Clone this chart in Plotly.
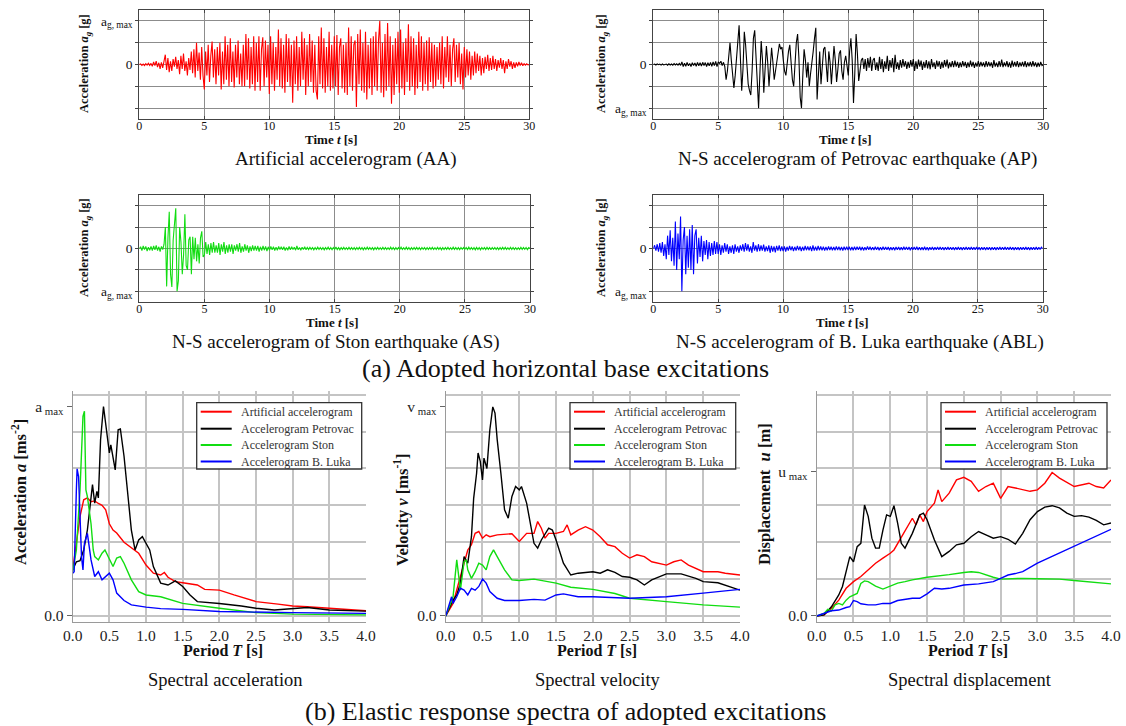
import numpy as np
import plotly.graph_objects as go

W, H = 1126, 726
FONT = "Liberation Serif"

# ---------------- accelerograms (units: grid steps, a_g,max = 2), sampled every 0.1 s ----------------
DT = 0.1
AA_VALUES = [
    0.00, 0.03, -0.04, 0.02, -0.05, 0.04, -0.03, 0.06, -0.04, 0.05,
    -0.08, 0.12, -0.05, 0.15, -0.12, 0.08, -0.20, 0.10, -0.15, 0.18,
    0.45, -0.25, 0.30, -0.35, 0.15, -0.30, 0.25, -0.10, 0.35, -0.20,
    0.20, -0.45, 0.40, -0.20, 0.50, -0.30, 0.15, -0.50, 0.30, -0.25,
    0.60, -0.40, 0.70, -0.60, 1.00, -0.30, 0.55, -0.70, 0.80, -0.50,
    -1.15, 0.60, -0.50, 0.90, -0.80, 0.40, 1.05, -0.60, 0.70, -0.90,
    0.80, -0.50, 1.00, -1.15, 0.60, -0.90, 1.30, -0.70, 0.90, -1.00,
    1.20, -0.80, 0.60, -1.05, 0.90, -0.60, 1.10, -0.90, 0.50, -1.00,
    0.90, -1.00, 1.40, -0.70, 1.20, -1.10, 0.80, -0.90, 1.30, -1.20,
    1.00, -0.80, 1.30, -1.20, 0.70, 1.25, -1.00, 1.10, -0.60, 0.90,
    -1.35, 1.30, -0.90, 1.00, -1.20, 0.80, -0.70, 1.60, -1.00, 1.20,
    -1.10, 0.90, -1.30, 1.40, -0.80, 1.20, -1.00, 0.90, -1.75, 1.10,
    -0.90, 1.30, -1.20, 0.80, -1.00, 1.50, -0.70, 1.20, -1.40, 0.90,
    -1.00, 1.40, -0.80, 1.10, -1.30, 0.90, -1.20, -1.60, 1.30, -0.90,
    1.70, -1.10, 1.20, -1.30, 0.80, -1.00, 1.50, -1.20, 0.90, -1.10,
    1.30, -1.00, 1.35, -1.40, 0.80, 1.20, -1.10, 0.90, -1.30, 1.00,
    -1.40, 1.70, -1.00, 1.30, -1.20, 0.90, 1.10, -1.95, 1.40, -0.90,
    1.60, -1.20, 1.00, -1.30, 1.50, -1.60, 0.90, -1.10, 1.20, -1.40,
    1.30, -1.00, 1.50, -1.20, 1.10, 2.00, -1.30, 1.00, -1.50, 1.40,
    -1.20, 1.90, -1.00, 1.30, -1.80, 0.90, -1.40, 1.20, -0.90, 1.50,
    -1.30, 1.60, -1.10, 1.00, -1.40, 1.20, -0.80, 1.85, -1.20, 1.30,
    -1.00, 1.20, -1.40, 0.90, -1.10, 1.50, -0.80, 1.30, -1.20, 1.00,
    -0.90, 1.10, -1.20, 1.25, -0.80, 1.00, -1.10, 0.90, -1.00, 0.80,
    -0.70, 1.00, -0.90, 1.30, -1.10, 0.80, -0.60, 1.30, -0.80, 0.90,
    -1.00, 0.70, 1.20, -0.80, 0.90, -0.60, 1.00, -0.90, 0.50, -1.15,
    0.80, -0.60, 0.70, -0.50, 0.60, -0.70, 0.40, -0.50, 0.60, -0.40,
    0.50, -0.30, 0.40, -0.50, 0.30, -0.40, 0.35, -0.20, 0.45, -0.30,
    0.30, -0.25, 0.40, -0.20, 0.25, -0.30, 0.20, -0.15, 0.30, -0.20,
    0.20, -0.40, 0.15, -0.20, 0.25, -0.10, 0.15, -0.20, 0.10, -0.15,
    0.10, -0.08, 0.12, -0.05, 0.08, -0.06, 0.04, -0.03, 0.03, -0.02,
    0.00,
]
AP_VALUES = [
    0.00, 0.02, -0.02, 0.03, -0.01, 0.02, -0.03, 0.02, -0.02, 0.01,
    0.02, -0.03, 0.03, -0.02, 0.02, -0.03, 0.04, -0.02, 0.03, -0.03,
    0.05, -0.04, 0.12, -0.10, 0.06, -0.08, 0.10, -0.06, 0.05, -0.09,
    0.08, -0.05, 0.07, -0.08, 0.10, -0.06, 0.08, -0.07, 0.10, -0.05,
    0.09, -0.10, 0.08, -0.06, 0.10, -0.08, 0.12, -0.05, 0.14, -0.10,
    0.12, 0.05, 0.15, -0.05, 0.10, -0.10, -0.70, -0.30, 0.50, 1.00,
    0.20, -0.60, -1.08, -0.50, 0.30, 1.20, 1.80, 0.30, -1.20, -0.20,
    1.50, 0.90, -0.20, -0.90, -1.20, -1.40, -0.30, 1.20, 1.57, 0.40,
    -1.20, -2.00, -0.40, 1.08, 0.20, -1.30, -0.20, 0.85, 0.10, -1.00,
    -0.10, 0.77, 0.10, -0.70, -0.30, 0.20, 0.60, 0.95, 0.70, 0.80,
    0.20, -0.30, -0.50, 0.10, 0.60, 0.90, 0.10, -0.70, -1.00, 0.20,
    1.00, 1.40, 0.30, -1.50, -2.00, -0.50, 0.70, 0.20, -0.60, 0.10,
    -1.00, -0.40, 0.30, 0.60, 1.20, 1.68, -1.60, -0.50, 0.60, -0.90,
    0.20, 0.70, 0.80, -0.30, -0.80, 0.60, 0.10, -0.90, 0.30, 0.85,
    0.20, -0.80, -0.20, 0.50, 0.65, -0.30, -0.70, 0.10, 0.40, -0.20,
    -0.50, 0.60, 1.20, 0.20, -1.77, -0.40, 1.40, 0.50, -0.75, -0.30,
    0.20, 0.30, -0.20, 0.25, -0.30, 0.30, -0.15, 0.35, -0.30, 0.20,
    0.30, -0.25, 0.10, -0.30, 0.35, -0.20, 0.25, -0.35, 0.15, -0.20,
    0.40, -0.30, 0.20, -0.15, 0.30, -0.35, 0.45, -0.20, 0.10, -0.25,
    0.20, -0.15, 0.25, -0.10, 0.15, -0.20, 0.12, -0.15, 0.20, -0.10,
    0.25, -0.30, 0.15, -0.20, 0.22, -0.10, 0.18, -0.25, 0.12, -0.15,
    0.20, -0.18, 0.15, -0.22, 0.25, -0.12, 0.10, -0.20, 0.18, -0.10,
    0.15, -0.20, 0.12, -0.15, 0.20, -0.10, 0.22, -0.18, 0.10, -0.12,
    0.15, -0.12, 0.18, -0.10, 0.12, -0.15, 0.10, -0.12, 0.15, -0.08,
    0.12, -0.15, 0.10, -0.12, 0.18, -0.10, 0.12, -0.15, 0.08, -0.10,
    0.15, -0.10, 0.12, -0.08, 0.10, -0.12, 0.15, -0.10, 0.12, -0.08,
    0.10, -0.15, 0.20, -0.10, 0.08, -0.12, 0.15, -0.10, 0.22, -0.12,
    0.10, -0.08, 0.15, -0.12, 0.10, -0.15, 0.18, -0.10, 0.12, -0.10,
    0.15, -0.12, 0.10, -0.08, 0.12, -0.10, 0.15, -0.12, 0.10, -0.08,
    0.12, -0.10, 0.15, -0.08, 0.10, -0.12, 0.08, -0.10, 0.12, -0.05,
    0.00,
]
AS_VALUES = [
    0.00, 0.08, -0.10, 0.12, -0.05, 0.10, -0.12, 0.06, -0.08, 0.10,
    -0.10, 0.12, -0.06, 0.15, -0.10, 0.08, -0.15, 0.10, -0.05, 0.20,
    1.00, -1.77, 0.50, 1.72, -1.20, -1.80, 0.40, 1.20, 1.88, -2.00,
    -1.50, 1.00, 0.30, -1.20, -0.30, 1.60, -0.80, -1.00, 0.40, 0.55,
    -1.20, 0.55, -0.50, 0.50, -0.60, 0.20, -0.70, 0.50, 0.80, -0.40,
    -0.30, 0.30, -0.25, 0.20, -0.30, 0.25, -0.20, 0.30, -0.20, 0.15,
    -0.20, 0.25, -0.30, 0.20, -0.15, 0.30, -0.25, 0.15, -0.20, 0.20,
    -0.15, 0.20, -0.25, 0.15, -0.10, 0.20, -0.15, 0.25, -0.20, 0.10,
    -0.15, 0.20, -0.10, 0.15, -0.20, 0.10, -0.12, 0.15, -0.10, 0.12,
    -0.10, 0.12, -0.15, 0.08, -0.10, 0.12, -0.08, 0.10, -0.12, 0.08,
    -0.08, 0.10, -0.06, 0.08, -0.10, 0.06, -0.08, 0.10, -0.05, 0.08,
    -0.06, 0.08, -0.10, 0.05, -0.08, 0.10, -0.06, 0.08, -0.05, 0.06,
    -0.08, 0.12, -0.06, 0.05, -0.08, 0.06, -0.05, 0.08, -0.06, 0.05,
    -0.05, 0.06, -0.04, 0.05, -0.06, 0.04, -0.05, 0.06, -0.04, 0.05,
    -0.05, 0.04, -0.06, 0.05, -0.04, 0.06, -0.05, 0.04, -0.06, 0.05,
    -0.04, 0.07, -0.05, 0.04, -0.06, 0.05, -0.04, 0.06, -0.05, 0.04,
    -0.05, 0.06, -0.04, 0.05, -0.05, 0.04, -0.06, 0.05, -0.04, 0.06,
    -0.04, 0.05, -0.06, 0.04, -0.05, 0.06, -0.04, 0.05, -0.05, 0.04,
    -0.06, 0.05, -0.04, 0.06, -0.05, 0.04, -0.05, 0.06, -0.04, 0.05,
    -0.05, 0.04, -0.05, 0.06, -0.04, 0.05, -0.06, 0.04, -0.05, 0.05,
    -0.04, 0.06, -0.05, 0.04, -0.05, 0.06, -0.04, 0.05, -0.06, 0.04,
    -0.05, 0.05, -0.04, 0.06, -0.05, 0.04, -0.06, 0.05, -0.04, 0.05,
    -0.06, 0.04, -0.05, 0.05, -0.04, 0.06, -0.05, 0.04, -0.05, 0.06,
    -0.04, 0.05, -0.06, 0.04, -0.05, 0.05, -0.04, 0.06, -0.05, 0.04,
    -0.05, 0.06, -0.04, 0.05, -0.05, 0.04, -0.06, 0.05, -0.04, 0.05,
    -0.04, 0.05, -0.05, 0.06, -0.04, 0.05, -0.05, 0.04, -0.06, 0.05,
    -0.05, 0.04, -0.06, 0.05, -0.04, 0.05, -0.05, 0.06, -0.04, 0.05,
    -0.06, 0.05, -0.04, 0.05, -0.05, 0.04, -0.06, 0.05, -0.04, 0.06,
    -0.04, 0.06, -0.05, 0.04, -0.05, 0.06, -0.04, 0.05, -0.05, 0.04,
    -0.05, 0.04, -0.05, 0.06, -0.04, 0.05, -0.04, 0.05, -0.06, 0.04,
    0.00,
]
ABL_VALUES = [
    0.00, 0.15, -0.10, 0.20, -0.15, 0.25, -0.20, 0.30, -0.35, 0.20,
    -0.50, 0.60, -0.30, 0.85, -0.60, 0.50, -0.80, 1.26, -1.00, 0.70,
    -0.50, 1.50, -2.00, 0.40, 1.00, -1.20, 0.60, -0.90, 0.90, -1.00,
    1.10, -1.20, 0.60, 0.90, -0.70, 0.50, -0.40, 0.60, -0.60, 0.35,
    -0.30, 0.40, -0.50, 0.30, -0.35, 0.25, -0.30, 0.35, -0.25, 0.30,
    -0.25, 0.20, -0.30, 0.15, -0.20, 0.25, -0.15, 0.20, -0.25, 0.10,
    -0.20, 0.15, -0.25, 0.20, -0.15, 0.10, -0.20, 0.15, -0.10, 0.20,
    -0.15, 0.25, -0.10, 0.20, -0.15, 0.10, -0.20, 0.30, -0.10, 0.15,
    -0.15, 0.20, -0.12, 0.15, -0.10, 0.18, -0.15, 0.10, -0.12, 0.15,
    -0.20, 0.12, -0.15, 0.10, -0.18, 0.12, -0.10, 0.15, -0.12, 0.10,
    -0.12, 0.10, -0.15, 0.08, -0.10, 0.12, -0.08, 0.10, -0.12, 0.08,
    -0.10, 0.12, -0.08, 0.10, -0.12, 0.08, -0.10, 0.12, -0.08, 0.10,
    -0.08, 0.10, -0.12, 0.15, -0.10, 0.08, -0.10, 0.12, -0.08, 0.10,
    -0.09, 0.08, -0.10, 0.07, -0.09, 0.10, -0.07, 0.08, -0.09, 0.07,
    -0.08, 0.10, -0.07, 0.09, -0.08, 0.07, -0.10, 0.08, -0.07, 0.09,
    -0.07, 0.08, -0.09, 0.07, -0.08, 0.09, -0.07, 0.08, -0.06, 0.08,
    -0.08, 0.07, -0.09, 0.06, -0.07, 0.10, -0.06, 0.08, -0.07, 0.06,
    -0.07, 0.08, -0.06, 0.07, -0.08, 0.06, -0.07, 0.08, -0.06, 0.07,
    -0.06, 0.07, -0.08, 0.06, -0.07, 0.06, -0.08, 0.07, -0.06, 0.07,
    -0.07, 0.06, -0.07, 0.08, -0.06, 0.07, -0.06, 0.07, -0.08, 0.06,
    -0.06, 0.07, -0.06, 0.08, -0.07, 0.06, -0.07, 0.06, -0.07, 0.08,
    -0.07, 0.06, -0.08, 0.06, -0.06, 0.07, -0.07, 0.06, -0.06, 0.07,
    -0.06, 0.07, -0.06, 0.06, -0.07, 0.06, -0.06, 0.07, -0.06, 0.06,
    -0.06, 0.06, -0.07, 0.06, -0.06, 0.07, -0.06, 0.06, -0.07, 0.06,
    -0.06, 0.07, -0.06, 0.06, -0.06, 0.07, -0.06, 0.06, -0.06, 0.07,
    -0.06, 0.06, -0.07, 0.06, -0.06, 0.06, -0.07, 0.06, -0.06, 0.06,
    -0.07, 0.06, -0.06, 0.06, -0.07, 0.06, -0.06, 0.07, -0.06, 0.06,
    -0.06, 0.07, -0.06, 0.06, -0.06, 0.07, -0.06, 0.06, -0.07, 0.06,
    -0.06, 0.06, -0.07, 0.06, -0.06, 0.06, -0.06, 0.07, -0.06, 0.06,
    -0.07, 0.06, -0.06, 0.06, -0.06, 0.07, -0.06, 0.06, -0.05, 0.06,
    0.00,
]

TIME_TICKS = [0, 5, 10, 15, 20, 25, 30]
AG_MAX = 2.0

# ---------------- response spectra (units: grid steps) ----------------
SA_ART_T = [0, 0.05, 0.1, 0.15, 0.2, 0.25, 0.3, 0.35, 0.4, 0.45, 0.5, 0.55, 0.6, 0.7, 0.8, 0.9, 1.0, 1.1, 1.2, 1.25, 1.3, 1.4, 1.5, 1.6, 1.7, 1.8, 2.0, 2.2, 2.5, 2.8, 3.0, 3.2, 3.5, 4.0]
SA_ART_V = [1.25, 2.0, 2.7, 3.15, 3.2, 3.1, 3.12, 3.05, 3.0, 2.88, 2.5, 2.33, 2.25, 2.0, 1.84, 1.7, 1.38, 1.16, 1.11, 1.18, 1.05, 0.93, 0.9, 0.88, 0.84, 0.72, 0.70, 0.57, 0.39, 0.32, 0.27, 0.25, 0.21, 0.14]
SA_PET_T = [0, 0.05, 0.1, 0.15, 0.2, 0.27, 0.3, 0.33, 0.35, 0.38, 0.42, 0.45, 0.5, 0.52, 0.55, 0.58, 0.62, 0.65, 0.7, 0.75, 0.8, 0.85, 0.9, 0.95, 1.0, 1.05, 1.1, 1.2, 1.3, 1.4, 1.5, 1.6, 1.7, 1.8, 2.0, 2.3, 2.5, 2.75, 3.0, 3.2, 3.5, 4.0]
SA_PET_V = [1.25, 1.47, 1.5, 1.79, 2.33, 3.56, 3.06, 3.38, 3.2, 4.78, 5.68, 5.23, 4.42, 4.64, 4.24, 3.96, 5.05, 5.07, 4.33, 3.24, 2.33, 1.79, 2.06, 2.15, 1.97, 1.79, 1.34, 0.89, 0.84, 0.95, 0.8, 0.57, 0.39, 0.38, 0.34, 0.27, 0.21, 0.16, 0.21, 0.23, 0.16, 0.13]
SA_STON_T = [0, 0.05, 0.1, 0.14, 0.16, 0.18, 0.2, 0.25, 0.28, 0.3, 0.35, 0.4, 0.44, 0.5, 0.55, 0.6, 0.65, 0.7, 0.8, 0.9, 1.0, 1.2, 1.5, 2.0, 2.5, 3.0, 4.0]
SA_STON_V = [1.2, 1.79, 3.42, 5.41, 5.55, 3.42, 3.24, 2.5, 1.79, 1.61, 1.52, 1.7, 1.79, 1.52, 1.34, 1.57, 1.61, 1.43, 0.98, 0.66, 0.57, 0.52, 0.34, 0.21, 0.09, 0.05, 0.03]
SA_BL_T = [0, 0.02, 0.05, 0.06, 0.08, 0.1, 0.12, 0.14, 0.16, 0.2, 0.22, 0.25, 0.3, 0.35, 0.4, 0.45, 0.5, 0.55, 0.6, 0.7, 0.8, 1.0, 1.2, 1.5, 2.0, 3.0, 4.0]
SA_BL_V = [1.16, 1.2, 3.42, 3.99, 3.78, 2.5, 1.61, 1.25, 1.97, 2.24, 1.88, 1.52, 1.07, 1.2, 0.98, 1.07, 1.16, 0.98, 0.62, 0.42, 0.3, 0.24, 0.2, 0.18, 0.12, 0.09, 0.07]
A_MAX = 5.68

SV_ART_T = [0, 0.1, 0.2, 0.3, 0.35, 0.4, 0.45, 0.5, 0.55, 0.6, 0.7, 0.8, 0.9, 1.0, 1.1, 1.2, 1.25, 1.3, 1.35, 1.4, 1.5, 1.6, 1.65, 1.7, 1.8, 1.9, 2.0, 2.1, 2.2, 2.3, 2.4, 2.5, 2.6, 2.7, 2.8, 3.0, 3.1, 3.2, 3.3, 3.5, 3.7, 3.8, 4.0]
SV_ART_V = [0, 0.34, 1.07, 1.79, 1.93, 2.24, 2.29, 2.11, 2.2, 2.15, 2.2, 2.22, 2.23, 2.02, 2.24, 2.24, 2.56, 2.38, 2.11, 2.24, 2.24, 2.29, 2.47, 2.2, 2.33, 2.42, 2.33, 2.15, 1.93, 1.88, 1.7, 1.57, 1.66, 1.61, 1.47, 1.38, 1.47, 1.52, 1.38, 1.2, 1.2, 1.16, 1.11]
SV_PET_T = [0, 0.1, 0.15, 0.2, 0.25, 0.3, 0.35, 0.38, 0.42, 0.44, 0.47, 0.5, 0.52, 0.56, 0.6, 0.64, 0.67, 0.7, 0.75, 0.8, 0.85, 0.9, 0.95, 1.0, 1.03, 1.1, 1.2, 1.25, 1.3, 1.4, 1.45, 1.5, 1.6, 1.7, 1.8, 2.0, 2.1, 2.2, 2.3, 2.4, 2.5, 2.6, 2.7, 2.8, 3.0, 3.2, 3.4, 3.5, 3.7, 3.8, 4.0]
SV_PET_V = [0, 0.43, 0.57, 0.89, 1.61, 1.43, 2.15, 3.19, 3.87, 4.42, 4.19, 3.69, 4.28, 4.0, 5.05, 5.67, 5.5, 4.78, 3.87, 2.88, 2.65, 3.24, 3.51, 3.42, 3.51, 3.06, 1.97, 1.84, 2.06, 2.38, 2.33, 2.06, 1.43, 1.11, 1.16, 1.2, 1.16, 1.25, 1.18, 1.07, 1.05, 0.98, 0.84, 0.98, 1.14, 1.14, 1.02, 0.93, 0.9, 0.84, 0.7]
SV_STON_T = [0, 0.1, 0.15, 0.18, 0.2, 0.25, 0.28, 0.3, 0.35, 0.4, 0.45, 0.5, 0.55, 0.6, 0.65, 0.7, 0.8, 0.9, 1.0, 1.2, 1.5, 1.7, 2.0, 2.3, 2.5, 3.0, 3.5, 4.0]
SV_STON_V = [0, 0.52, 1.52, 1.07, 0.7, 1.47, 1.52, 1.25, 1.02, 1.2, 1.43, 1.38, 1.25, 1.61, 1.79, 1.61, 1.25, 0.98, 0.96, 1.0, 0.89, 0.78, 0.72, 0.61, 0.48, 0.39, 0.3, 0.24]
SV_BL_T = [0, 0.08, 0.1, 0.15, 0.2, 0.25, 0.3, 0.35, 0.4, 0.45, 0.5, 0.55, 0.6, 0.7, 0.8, 1.0, 1.2, 1.35, 1.5, 1.6, 1.8, 2.0, 2.5, 3.0, 3.5, 4.0]
SV_BL_V = [0, 0.52, 0.34, 0.52, 0.75, 0.7, 0.57, 0.75, 0.7, 0.8, 1.0, 0.89, 0.66, 0.48, 0.42, 0.42, 0.45, 0.43, 0.57, 0.6, 0.52, 0.52, 0.48, 0.52, 0.62, 0.72]
V_MAX = 5.68

SD_ART_T = [0, 0.1, 0.2, 0.3, 0.4, 0.5, 0.6, 0.7, 0.8, 0.9, 1.0, 1.05, 1.1, 1.15, 1.2, 1.3, 1.35, 1.4, 1.45, 1.5, 1.6, 1.65, 1.7, 1.8, 1.9, 2.0, 2.1, 2.2, 2.3, 2.4, 2.5, 2.6, 2.7, 2.8, 2.9, 3.0, 3.1, 3.2, 3.3, 3.5, 3.6, 3.7, 3.8, 3.9, 4.0]
SD_ART_V = [0, 0.03, 0.21, 0.43, 0.75, 0.93, 1.07, 1.25, 1.43, 1.57, 1.7, 1.79, 1.97, 2.15, 2.33, 2.65, 2.47, 2.74, 2.56, 2.83, 3.06, 3.42, 3.1, 3.33, 3.69, 3.76, 3.65, 3.38, 3.51, 3.6, 3.19, 3.51, 3.47, 3.42, 3.38, 3.42, 3.6, 3.89, 3.74, 3.51, 3.56, 3.6, 3.51, 3.47, 3.69]
SD_PET_T = [0, 0.1, 0.2, 0.3, 0.35, 0.4, 0.45, 0.5, 0.55, 0.6, 0.65, 0.7, 0.75, 0.8, 0.85, 0.9, 0.95, 1.0, 1.05, 1.1, 1.15, 1.2, 1.3, 1.4, 1.45, 1.5, 1.6, 1.7, 1.8, 1.9, 2.0, 2.1, 2.2, 2.3, 2.4, 2.5, 2.6, 2.7, 2.8, 2.9, 3.0, 3.1, 3.2, 3.3, 3.4, 3.5, 3.6, 3.7, 3.8, 3.9, 4.0]
SD_PET_V = [0, 0.03, 0.25, 0.57, 0.8, 1.25, 1.61, 1.47, 1.88, 1.97, 3.01, 2.7, 2.11, 1.84, 1.84, 2.33, 2.74, 2.7, 2.99, 2.52, 1.97, 1.84, 2.24, 2.74, 2.79, 2.61, 2.06, 1.61, 1.75, 1.93, 1.97, 2.15, 2.29, 2.2, 2.11, 2.15, 2.08, 1.95, 2.24, 2.61, 2.83, 2.95, 2.99, 2.93, 2.79, 2.7, 2.72, 2.68, 2.59, 2.47, 2.52]
SD_STON_T = [0, 0.1, 0.15, 0.2, 0.25, 0.3, 0.35, 0.4, 0.45, 0.5, 0.55, 0.6, 0.65, 0.7, 0.8, 0.9, 1.0, 1.1, 1.2, 1.3, 1.5, 1.7, 1.8, 2.0, 2.1, 2.2, 2.3, 2.4, 2.5, 2.8, 3.0, 3.3, 3.5, 3.8, 4.0]
SD_STON_V = [0, 0.07, 0.18, 0.14, 0.3, 0.34, 0.3, 0.43, 0.52, 0.57, 0.61, 0.88, 0.95, 0.93, 0.81, 0.73, 0.8, 0.89, 0.93, 0.98, 1.05, 1.09, 1.12, 1.18, 1.2, 1.18, 1.11, 1.05, 1.0, 1.02, 1.01, 1.0, 0.96, 0.9, 0.87]
SD_BL_T = [0, 0.1, 0.15, 0.2, 0.3, 0.35, 0.4, 0.45, 0.5, 0.55, 0.6, 0.7, 0.8, 0.9, 1.0, 1.1, 1.2, 1.3, 1.4, 1.5, 1.6, 1.7, 1.8, 2.0, 2.2, 2.4, 2.5, 2.6, 2.7, 2.8, 3.0, 3.2, 3.4, 3.5, 3.6, 3.8, 4.0]
SD_BL_V = [0, 0.07, 0.12, 0.14, 0.16, 0.2, 0.23, 0.25, 0.42, 0.39, 0.33, 0.3, 0.3, 0.34, 0.34, 0.42, 0.45, 0.48, 0.48, 0.6, 0.75, 0.73, 0.75, 0.84, 0.87, 0.93, 1.02, 1.11, 1.15, 1.2, 1.43, 1.61, 1.79, 1.88, 1.97, 2.15, 2.35]
U_MAX = 3.92

PERIOD_TICKS = [0.0, 0.5, 1.0, 1.5, 2.0, 2.5, 3.0, 3.5, 4.0]

SERIES_NAMES = ["Artificial accelerogram", "Accelerogram Petrovac", "Accelerogram Ston", "Accelerogram B. Luka"]
COLORS = ["#ff0000", "#000000", "#11dd11", "#0000ff"]


# ---------------- helpers ----------------
def px_x(x):
    return x / W


def px_y(y):
    return 1 - y / H


fig = go.Figure()
time_axis = np.arange(len(AA_VALUES)) * DT

top_panels = [
    (AA_VALUES, "#ff0000", 139.3, 529.3, 10, 119, +1),
    (AP_VALUES, "#000000", 653.3, 1043.3, 10, 119, -1),
    (AS_VALUES, "#11dd11", 139.3, 530.0, 195, 302, -1),
    (ABL_VALUES, "#0000ff", 653.3, 1042.7, 195, 302, -1),
]

layout_axes = {}
ax = 0
for vals, col, x0, x1, y0, y1, sgn in top_panels:
    ax += 1
    xs = "" if ax == 1 else str(ax)
    fig.add_trace(go.Scatter(x=time_axis, y=vals, mode="lines", line=dict(color=col, width=1.1),
                             showlegend=False, xaxis="x" + xs, yaxis="y" + xs, hoverinfo="skip"))
    ttext = [" ", " ", "0", " ", " "]
    if sgn > 0:
        ttext[4] = "a<sub>g, max</sub>"
    else:
        ttext[0] = "a<sub>g, max</sub>"
    layout_axes["xaxis" + xs] = dict(
        domain=[px_x(x0), px_x(x1)], range=[0, 30], anchor="y" + xs, automargin=False,
        tickvals=TIME_TICKS, ticktext=[str(t) for t in TIME_TICKS],
        showgrid=True, gridcolor="#8c8c8c", gridwidth=1, zeroline=False,
        showline=True, linecolor="#444", linewidth=1, mirror="ticks",
        ticks="inside", ticklen=3, tickcolor="#444", ticklabelstandoff=-4,
        tickfont=dict(family=FONT, size=12, color="#111"),
    )
    layout_axes["yaxis" + xs] = dict(
        domain=[px_y(y1), px_y(y0)], range=[-2.5, 2.5], anchor="x" + xs, automargin=False,
        tickvals=[-AG_MAX, -1, 0, 1, AG_MAX], ticktext=ttext,
        showgrid=True, gridcolor="#8c8c8c", gridwidth=1, zeroline=False,
        showline=True, linecolor="#444", linewidth=1, mirror="ticks",
        ticks="outside", ticklen=3, tickcolor="#444",
        tickfont=dict(family=FONT, size=13.5, color="#111"),
    )

spec_panels = [
    (72.7, 366.0, [(SA_ART_T, SA_ART_V), (SA_PET_T, SA_PET_V), (SA_STON_T, SA_STON_V), (SA_BL_T, SA_BL_V)], A_MAX, "a<sub> max</sub>", 196.7, 361.7),
    (445.7, 740.0, [(SV_ART_T, SV_ART_V), (SV_PET_T, SV_PET_V), (SV_STON_T, SV_STON_V), (SV_BL_T, SV_BL_V)], V_MAX, "v<sub> max</sub>", 570.0, 735.7),
    (816.7, 1111.0, [(SD_ART_T, SD_ART_V), (SD_PET_T, SD_PET_V), (SD_STON_T, SD_STON_V), (SD_BL_T, SD_BL_V)], U_MAX, "u<sub> max</sub>", 941.0, 1107.0),
]

shapes = []
annotations = []


def ann(text, x, y, size, angle=0, bold=False, xanchor="center", color="#111"):
    if bold:
        text = "<b>" + text + "</b>"
    annotations.append(dict(text=text, x=px_x(x), y=px_y(y), xref="paper", yref="paper",
                            showarrow=False, textangle=angle, xanchor=xanchor, yanchor="middle",
                            font=dict(family=FONT, size=size, color=color)))


LEG_TOP, LEG_BOTTOM = 402.7, 469.0
LEG_ROWS = [411.7, 428.7, 445.0, 461.5]

for x0, x1, series, vmax, vlabel, lx0, lx1 in spec_panels:
    ax += 1
    xs = str(ax)
    for (tt, vv), name, col in zip(series, SERIES_NAMES, COLORS):
        fig.add_trace(go.Scatter(x=tt, y=vv, mode="lines", name=name,
                                 line=dict(color=col, width=1.4),
                                 xaxis="x" + xs, yaxis="y" + xs, showlegend=False, hoverinfo="skip"))
    layout_axes["xaxis" + xs] = dict(
        domain=[px_x(x0), px_x(x1)], range=[0, 4], anchor="y" + xs, automargin=False,
        tickvals=PERIOD_TICKS, ticktext=[f"{t:.1f}" for t in PERIOD_TICKS],
        showgrid=True, gridcolor="#c4c4c4", gridwidth=1.5, zeroline=False,
        showline=True, linecolor="#9a9a9a", linewidth=1.2,
        ticks="", tickfont=dict(family=FONT, size=15.5, color="#222"),
    )
    layout_axes["yaxis" + xs] = dict(
        domain=[px_y(621.5), px_y(391)], range=[-0.15, 6.1], anchor="x" + xs, automargin=False,
        tickvals=[0, vmax], ticktext=["0.0", vlabel],
        showgrid=False, zeroline=True, zerolinecolor="#c4c4c4", zerolinewidth=1.5,
        minor=dict(dtick=1, tick0=0, showgrid=True, gridcolor="#c4c4c4", gridwidth=1.5, ticks=""),
        showline=True, linecolor="#9a9a9a", linewidth=1.2,
        ticks="outside", ticklen=5, tickcolor="#666",
        tickfont=dict(family=FONT, size=15.5, color="#222"),
    )
    # legend box
    shapes.append(dict(type="rect", xref="paper", yref="paper",
                       x0=px_x(lx0), x1=px_x(lx1), y0=px_y(LEG_BOTTOM), y1=px_y(LEG_TOP),
                       line=dict(color="#333", width=1.3), fillcolor="white", layer="above"))
    for name, col, ry in zip(SERIES_NAMES, COLORS, LEG_ROWS):
        shapes.append(dict(type="line", xref="paper", yref="paper",
                           x0=px_x(lx0 + 4), x1=px_x(lx0 + 35), y0=px_y(ry), y1=px_y(ry),
                           line=dict(color=col, width=2), layer="above"))
        ann(name, lx0 + 42, ry, 12, xanchor="left", color="#333")

# top panels: axis titles and captions
for cx, cy_mid, tx, ty, capx, capy, cap in [
    (85, 64, 331, 139.5, 346, 159, "Artificial accelerogram (AA)"),
    (602, 64, 845, 139.5, 857, 159, "N-S accelerogram of Petrovac earthquake (AP)"),
    (85, 248, 332, 322.5, 336, 342, "N-S accelerogram of Ston earthquake (AS)"),
    (602, 248, 842, 322.5, 860, 342, "N-S accelerogram of B. Luka earthquake (ABL)"),
]:
    ann("Acceleration <i>a<sub>g</sub></i> [g]", cx, cy_mid, 12.5, angle=-90, bold=True)
    ann("Time <i>t</i> [s]", tx, ty, 13, bold=True)
    ann(cap, capx, capy, 19)

ann("(a) Adopted horizontal base excitations", 565, 368, 26)

for tx, cx, cy, title, cap, capx in [
    (223, 19, 492, "Acceleration <i>a</i> [ms<sup>-2</sup>]", "Spectral acceleration", 225),
    (597, 401, 510, "Velocity <i>v</i> [ms<sup>-1</sup>]", "Spectral velocity", 598),
    (968, 764, 494, "Displacement  <i>u</i> [m]", "Spectral displacement", 970),
]:
    ann("Period <i>T</i> [s]", tx, 650, 16, bold=True)
    ann(title, cx, cy, 16.5, angle=-90, bold=True)
    ann(cap, capx, 680, 18.5)

ann("(b) Elastic response spectra of adopted excitations", 565, 711, 26)

fig.update_layout(
    width=W, height=H,
    margin=dict(l=0, r=0, t=0, b=0),
    paper_bgcolor="white", plot_bgcolor="white",
    annotations=annotations,
    shapes=shapes,
    showlegend=False,
    **layout_axes,
)

fig.write_html("out.html", config={"displayModeBar": False},
               post_script="document.body.style.margin='0px';document.body.style.overflow='hidden';")
